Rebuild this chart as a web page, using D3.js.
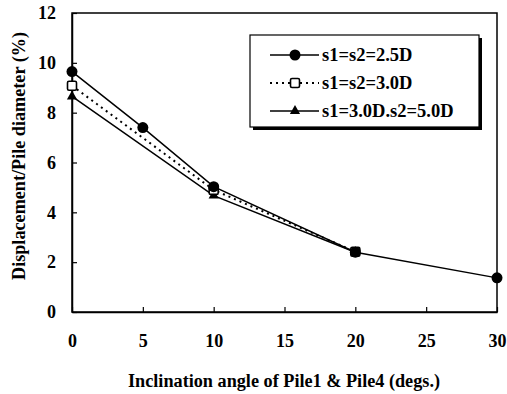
<!DOCTYPE html>
<html>
<head>
<meta charset="utf-8">
<script src="https://cdn.jsdelivr.net/npm/d3@7"></script>
<style>
  body { margin: 0; background: #fff; }
  text { font-family: "Liberation Serif", "Times New Roman", serif; font-weight: bold; fill: #000; }
</style>
</head>
<body>
<svg id="chart" width="507" height="394"></svg>
<script>
// data
var angles = [0, 5, 10, 20, 30];
var seriesNames = ["s1=s2=2.5D", "s1=s2=3.0D", "s1=3.0D.s2=5.0D"];
var s25 = [[0, 9.65], [5, 7.4], [10, 5.03], [20, 2.4], [30, 1.37]];
var s30 = [[0, 9.08], [10, 4.9], [20, 2.42]];
var s35 = [[0, 8.65], [10, 4.67], [20, 2.4]];
var xTicks = [0, 5, 10, 15, 20, 25, 30];
var yTicks = [0, 2, 4, 6, 8, 10, 12];

var svg = d3.select("#chart"),
    margin = {top: 13, right: 10, bottom: 82, left: 72},
    width = 497 - margin.left,
    height = 312 - margin.top;

var x = d3.scaleLinear().domain([0, 30]).range([0, width]),
    y = d3.scaleLinear().domain([0, 12]).range([height, 0]);

var g = svg.append("g")
    .attr("transform", "translate(" + margin.left + "," + margin.top + ")");

// frame
g.append("rect")
    .attr("width", width).attr("height", height)
    .attr("fill", "none").attr("stroke", "#000").attr("stroke-width", 1.5);

var xAxis = g.append("g")
    .attr("transform", "translate(0," + height + ")")
    .call(d3.axisBottom(x).tickValues(xTicks).tickSizeInner(-5).tickSizeOuter(0).tickPadding(22));
var yAxis = g.append("g")
    .call(d3.axisLeft(y).tickValues(yTicks).tickSizeInner(-5).tickSizeOuter(0).tickPadding(16));

[xAxis, yAxis].forEach(function(a) {
  a.select(".domain").attr("stroke-width", 1.5);
  a.selectAll(".tick line").attr("stroke-width", 1.2);
  a.selectAll("text").attr("font-size", 18).attr("font-family", null);
});

var line = d3.line()
    .x(function(d) { return x(d[0]); })
    .y(function(d) { return y(d[1]); });

var series = [
  {data: s25, dash: null, marker: "circle"},
  {data: s30, dash: "2,4", marker: "square"},
  {data: s35, dash: null, marker: "triangle"}
];

function drawMarker(sel, kind, cx, cy) {
  if (kind === "circle") {
    sel.append("circle").attr("cx", cx).attr("cy", cy).attr("r", 5.5).attr("fill", "#000");
  } else if (kind === "square") {
    sel.append("rect").attr("x", cx - 4.5).attr("y", cy - 4.5).attr("width", 9).attr("height", 9)
      .attr("rx", 1.5).attr("fill", "#fff").attr("stroke", "#000").attr("stroke-width", 1.6);
  } else {
    sel.append("path").attr("d", d3.symbol().type(d3.symbolTriangle).size(45)())
      .attr("transform", "translate(" + cx + "," + cy + ")").attr("fill", "#000");
  }
}

series.forEach(function(s) {
  g.append("path")
      .datum(s.data)
      .attr("fill", "none")
      .attr("stroke", "#000")
      .attr("stroke-width", s.dash ? 2 : 1.5)
      .attr("stroke-dasharray", s.dash)
      .attr("d", line);
});
// markers drawn last series first so circles sit on top
series.slice().reverse().forEach(function(s) {
  s.data.forEach(function(d) { drawMarker(g, s.marker, x(d[0]), y(d[1])); });
});

// legend
var lg = svg.append("g").attr("transform", "translate(250,35)");
lg.append("rect").attr("x", 3).attr("y", 3).attr("width", 229).attr("height", 92).attr("fill", "#000");
lg.append("rect").attr("width", 229).attr("height", 92).attr("fill", "#fff").attr("stroke", "#000").attr("stroke-width", 1.2);
series.forEach(function(s, i) {
  var ly = 20 + i * 28;
  lg.append("line").attr("x1", 20).attr("x2", 69).attr("y1", ly).attr("y2", ly)
    .attr("stroke", "#000").attr("stroke-width", s.dash ? 2 : 1.5).attr("stroke-dasharray", s.dash);
  drawMarker(lg, s.marker, 45, ly);
  lg.append("text").attr("x", 72).attr("y", ly).attr("dy", "0.35em")
    .attr("font-size", 18.5).text(seriesNames[i]);
});

// axis titles
svg.append("text")
    .attr("x", 284).attr("y", 387)
    .attr("text-anchor", "middle").attr("font-size", 18)
    .attr("textLength", 312).attr("lengthAdjust", "spacingAndGlyphs")
    .text("Inclination angle of Pile1 & Pile4 (degs.)");
svg.append("text")
    .attr("transform", "translate(25,156) rotate(-90)")
    .attr("text-anchor", "middle").attr("font-size", 18)
    .attr("textLength", 248).attr("lengthAdjust", "spacingAndGlyphs")
    .text("Displacement/Pile diameter (%)");
</script>
</body>
</html>
